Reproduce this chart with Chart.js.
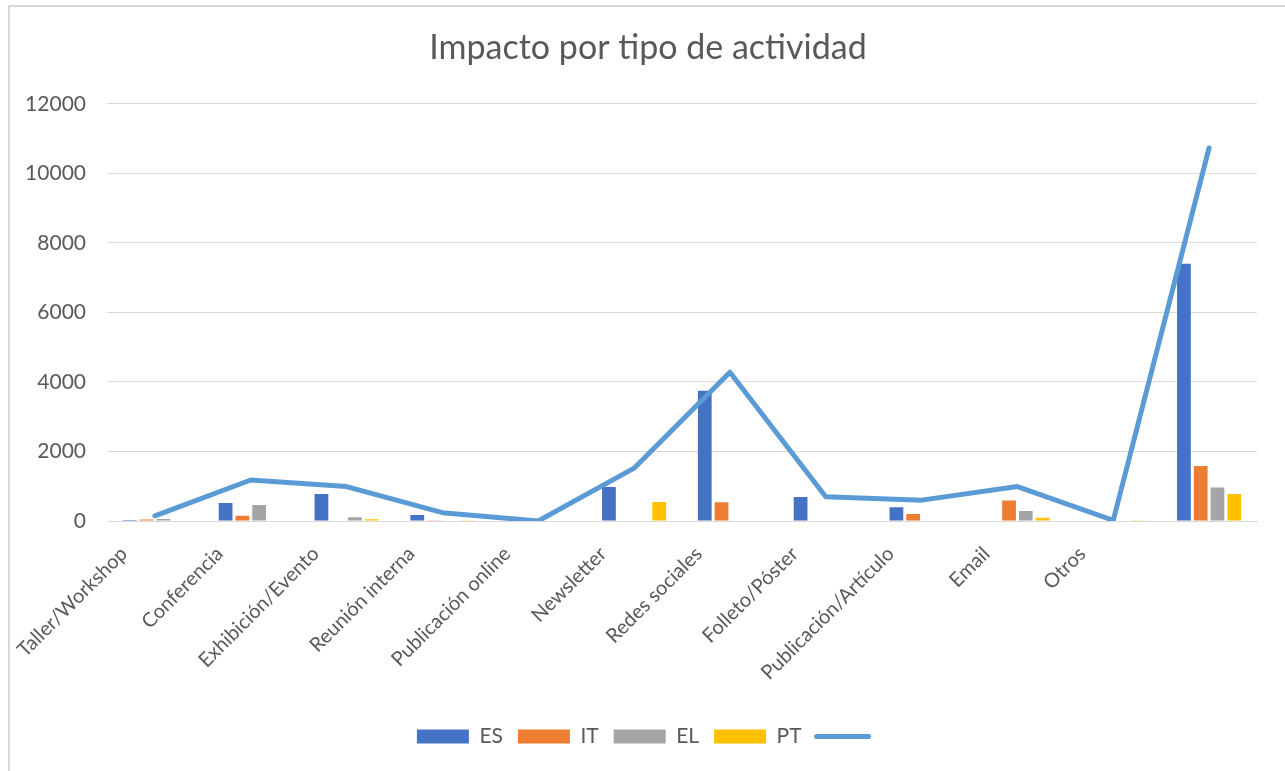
<!DOCTYPE html>
<html>
<head>
<meta charset="utf-8">
<script src="https://cdn.jsdelivr.net/npm/chart.js@4"></script>
<style>
  html, body { margin: 0; padding: 0; background: #fff; overflow: hidden; }
  #marco { position: absolute; left: 8px; top: 5px; width: 1400px; height: 900px;
           border-left: 2px solid #d9d9d9; border-top: 2px solid #d9d9d9; }
  #wrap { position: absolute; left: 0; top: 0; width: 1285px; height: 771px; }
</style>
</head>
<body>
<div id="marco"></div>
<div id="wrap"><canvas id="grafico"></canvas></div>
<script>
// Datos del gráfico
const categorias = ['Taller/Workshop', 'Conferencia', 'Exhibición/Evento', 'Reunión interna',
  'Publicación online', 'Newsletter', 'Redes sociales', 'Folleto/Póster',
  'Publicación/Artículo', 'Email', 'Otros', ''];
const valoresES = [30, 520, 780, 170, 0, 980, 3750, 690, 395, 0, 0, 7400];
const valoresIT = [40, 150, 0, 10, 0, 0, 540, 0, 200, 590, 0, 1580];
const valoresEL = [60, 460, 110, 0, 0, 0, 0, 0, 0, 290, 0, 960];
const valoresPT = [0, 0, 50, 20, 0, 550, 0, 0, 0, 90, 10, 780];
const valoresTotal = [150, 1180, 990, 240, 0, 1520, 4280, 700, 600, 990, 20, 10730];
const ticksY = [0, 2000, 4000, 6000, 8000, 10000, 12000];

const gris = '#595959';
const fuente = 'Lato, "Open Sans", sans-serif';

const ctx = document.getElementById('grafico');
new Chart(ctx, {
  data: {
    labels: categorias,
    datasets: [
      { type: 'bar', label: 'ES', data: valoresES, backgroundColor: '#4472C4', order: 2 },
      { type: 'bar', label: 'IT', data: valoresIT, backgroundColor: '#ED7D31', order: 2 },
      { type: 'bar', label: 'EL', data: valoresEL, backgroundColor: '#A5A5A5', order: 2 },
      { type: 'bar', label: 'PT', data: valoresPT, backgroundColor: '#FFC000', order: 2 },
      { type: 'line', label: '', data: valoresTotal, borderColor: '#5B9BD5', backgroundColor: '#5B9BD5',
        borderWidth: 5, pointRadius: 0, tension: 0, borderCapStyle: 'round', borderJoinStyle: 'round', order: 1 }
    ]
  },
  options: {
    responsive: true,
    maintainAspectRatio: false,
    animation: false,
    datasets: { bar: { categoryPercentage: 0.7, barPercentage: 0.82 } },
    layout: { padding: { left: 11, right: 0, top: 0, bottom: 14 } },
    plugins: {
      title: {
        display: true,
        text: 'Impacto por tipo de actividad',
        color: gris,
        font: { family: fuente, size: 34, weight: 'normal' },
        padding: { top: 28, bottom: 35 }
      },
      legend: {
        position: 'bottom',
        labels: {
          color: gris,
          font: { family: fuente, size: 21 },
          usePointStyle: true,
          pointStyleWidth: 52,
          boxWidth: 52,
          boxHeight: 14,
          padding: 15,
          sort: (a, b) => a.datasetIndex - b.datasetIndex,
          generateLabels: (chart) => {
            const items = Chart.defaults.plugins.legend.labels.generateLabels(chart);
            items.forEach(it => {
              const ds = chart.data.datasets[it.datasetIndex];
              if (ds.type === 'line') {
                it.pointStyle = 'line';
                it.lineWidth = 5;
                it.strokeStyle = '#5B9BD5';
                it.lineCap = 'round';
              } else {
                it.pointStyle = 'rect';
                it.lineWidth = 0;
              }
            });
            return items;
          }
        }
      },
      tooltip: { enabled: false }
    },
    scales: {
      x: {
        grid: { display: false, drawTicks: false },
        border: { display: true, color: '#d9d9d9', width: 1 },
        ticks: {
          color: gris,
          font: { family: fuente, size: 20 },
          maxRotation: 45,
          minRotation: 45,
          autoSkip: false,
          padding: 21,
          labelOffset: -31
        },
        afterFit: (scale) => { scale.height = 190; }
      },
      y: {
        min: 0,
        max: 12000,
        afterBuildTicks: (scale) => { scale.ticks = ticksY.map(v => ({ value: v })); },
        grid: { color: '#d9d9d9', lineWidth: 1, drawTicks: false },
        border: { display: false },
        ticks: {
          color: gris,
          font: { family: fuente, size: 21 },
          padding: 21,
          callback: (v) => String(v)
        },
        afterFit: (scale) => { scale.width = 96; }
      },
      // eje vacío a la derecha, solo para dejar margen
      margen: {
        type: 'linear',
        position: 'right',
        grid: { display: false, drawTicks: false },
        border: { display: false },
        ticks: { display: false },
        afterFit: (scale) => { scale.width = 28; }
      }
    }
  }
});
</script>
</body>
</html>
